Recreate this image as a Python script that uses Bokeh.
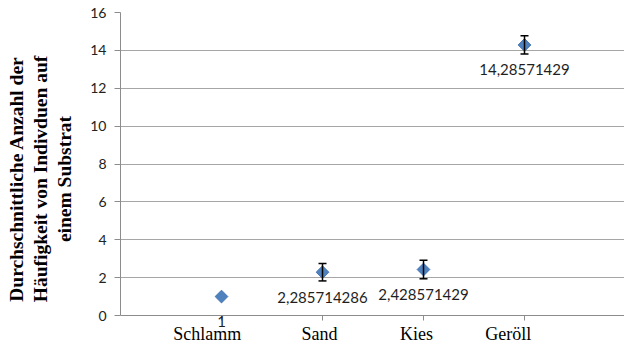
import math
from bokeh.plotting import figure
from bokeh.models import (Range1d, FixedTicker, Whisker, TeeHead,
                          ColumnDataSource, Label)
from bokeh.embed import file_html
from bokeh.resources import INLINE

# Mean abundance of individuals per substrate, with error bars
categories = ["Schlamm", "Sand", "Kies", "Geröll"]
positions = [1, 2, 3, 4]
means = [1, 2.285714286, 2.428571429, 14.28571429]
errors = [0, 0.46, 0.49, 0.48]
y_ticks = [0, 2, 4, 6, 8, 10, 12, 14, 16]

# category captions sit slightly left of their tick marks (in x units)
caption_shift = [-0.14, -0.03, -0.07, -0.16]

value_text = [f"{v:.10g}".replace(".", ",") for v in means]

# the frame reaches down to the page bottom so the captions below y=0
# and the value label of the lowest point can be drawn inside it
p = figure(width=624, height=345,
           x_range=Range1d(0, 4.99), y_range=Range1d(-1.584, 16),
           output_backend="svg", toolbar_location=None,
           min_border_left=120, min_border_right=0,
           min_border_top=12, min_border_bottom=0)
p.outline_line_color = None
p.background_fill_color = "white"
p.xgrid.visible = False
p.ygrid.grid_line_color = "#A6A6A6"
p.ygrid.grid_line_width = 1

# y axis
p.yaxis.ticker = FixedTicker(ticks=y_ticks)
p.yaxis.bounds = (0, 16)
p.yaxis.axis_line_color = "#8C8C8C"
p.yaxis.major_tick_line_color = "#8C8C8C"
p.yaxis.major_tick_out = 6
p.yaxis.major_tick_in = 0
p.yaxis.minor_tick_line_color = None
p.yaxis.major_label_text_font = "Lato"
p.yaxis.major_label_text_font_size = "14px"
p.yaxis.major_label_text_color = "#222222"
p.yaxis.major_label_standoff = 8
p.yaxis.axis_label = ("Durchschnittliche Anzahl der\n"
                      "Häufigkeit von Indivduen auf\n"
                      "einem Substrat")
p.yaxis.axis_label_text_font = "Liberation Serif"
p.yaxis.axis_label_text_font_style = "bold"
p.yaxis.axis_label_text_font_size = "19.5px"
p.yaxis.axis_label_text_line_height = 1.15
p.yaxis.axis_label_text_color = "black"
p.yaxis.axis_label_standoff = 12

# x axis pinned at y=0: tick marks at the categories, captions a little left
caption_ticks = [x + s for x, s in zip(positions, caption_shift)]
p.xaxis.fixed_location = 0
p.xaxis.ticker = FixedTicker(ticks=caption_ticks, minor_ticks=positions)
p.xaxis.major_label_overrides = {t: c for t, c in zip(caption_ticks, categories)}
p.xaxis.axis_line_color = "#8C8C8C"
p.xaxis.major_tick_line_color = None
p.xaxis.major_tick_out = 0
p.xaxis.major_tick_in = 0
p.xaxis.minor_tick_line_color = "#8C8C8C"
p.xaxis.minor_tick_out = 5
p.xaxis.minor_tick_in = 0
p.xaxis.major_label_text_font = "Liberation Serif"
p.xaxis.major_label_text_font_size = "18px"
p.xaxis.major_label_text_color = "black"
p.xaxis.major_label_standoff = 3

# error bars (only where an error exists)
err_idx = [i for i, e in enumerate(errors) if e > 0]
err_src = ColumnDataSource(data=dict(
    x=[positions[i] for i in err_idx],
    upper=[means[i] + errors[i] for i in err_idx],
    lower=[means[i] - errors[i] for i in err_idx],
))
whisker = Whisker(base="x", upper="upper", lower="lower", source=err_src,
                  line_color="black", line_width=1.5,
                  upper_head=TeeHead(size=8, line_color="black", line_width=1.5),
                  lower_head=TeeHead(size=8, line_color="black", line_width=1.5),
                  level="glyph")
p.add_layout(whisker)

# mean markers
src = ColumnDataSource(data=dict(x=positions, y=means))
p.scatter("x", "y", source=src, marker="square", angle=math.pi / 4,
          size=9, fill_color="#4F81BD", line_color="#4576B5", line_width=1)

# value labels under each marker
for x, y, txt in zip(positions, means, value_text):
    p.add_layout(Label(x=x, y=y, text=txt, y_offset=-25,
                       text_align="center", text_baseline="middle",
                       text_font="Lato", text_font_size="15px",
                       text_color="#1F1F1F", level="overlay"))

open("out.html", "w").write(file_html(p, INLINE))
